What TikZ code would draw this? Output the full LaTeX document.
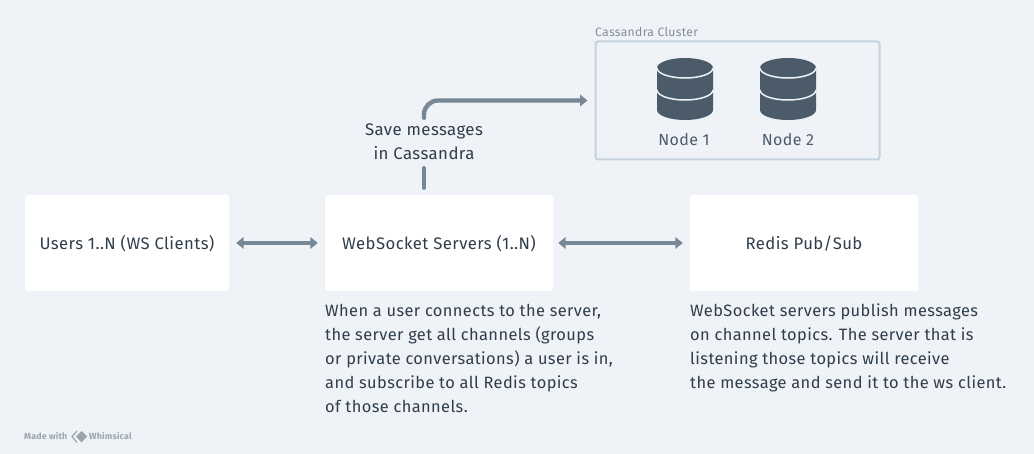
\documentclass[tikz,border=0pt]{standalone}
\usepackage{fontspec}
\setmainfont[LetterSpace=2.5]{Fira Sans}
\usetikzlibrary{arrows.meta}
\definecolor{bg}{HTML}{EFF3F7}
\definecolor{ink}{HTML}{2F3D4C}
\definecolor{conn}{HTML}{788796}
\definecolor{dbfill}{HTML}{4B5B6A}
\definecolor{rim}{HTML}{C5D1DC}
\definecolor{cap}{HTML}{808E9C}
\definecolor{brand}{HTML}{9AA5B0}
\tikzset{
  card/.style={fill=white,rounded corners=2.5pt,minimum width=#1,minimum height=96pt,inner sep=0pt,text=ink,font=\fontsize{16.7}{24}\selectfont},
  txt/.style={inner sep=0pt,text=ink,font=\fontsize{16.4}{24}\selectfont,align=left,anchor=north west},
  link/.style={draw=conn,line width=4.4pt,line cap=round},
  both/.style={link,{Triangle[length=7.5pt,width=11.5pt]}-{Triangle[length=7.5pt,width=11.5pt]},line cap=butt},
  dbname/.style={inner sep=0pt,text=dbfill,font=\fontsize{16}{20}\selectfont},
}
\newcommand{\dbicon}[1]{%
  \fill[dbfill] (#1-28,68) arc[start angle=180,end angle=360,x radius=28,y radius=10]
     -- (#1+28,110) arc[start angle=0,end angle=180,x radius=28,y radius=10] -- cycle;
  \draw[bg,line width=1.5pt] (#1-28,68) arc[start angle=180,end angle=0,x radius=28,y radius=10];
  \draw[bg,line width=1.5pt] (#1-28,90) arc[start angle=180,end angle=0,x radius=28,y radius=10];
}
\newcommand{\cardtext}[1]{\raisebox{-7pt}[0pt][0pt]{#1}}
\begin{document}
\begin{tikzpicture}[x=1pt,y=-1pt]
\useasboundingbox (0,0) rectangle (1034,454);
\fill[bg] (0,0) rectangle (1034,454);
\node[card=204pt] (users) at (127,243) {\cardtext{Users 1..N (WS Clients)}};
\node[card=228pt] (ws) at (439,243) {\cardtext{WebSocket Servers (1..N)}};
\node[card=228pt] (redis) at (804,243) {\cardtext{Redis Pub/Sub}};
\node[draw=rim,line width=2pt,rounded corners=2.5pt,minimum width=284pt,minimum height=118pt,inner sep=0pt] (cluster) at (737.5,100.5) {};
\node[inner sep=0pt,anchor=base west,text=cap,font=\fontsize{12.2}{14}\selectfont] (clabel) at (595,36.5) {Cassandra Cluster};
\dbicon{685}
\dbicon{788}
\node[dbname] (n1) at (684,139.5) {Node 1};
\node[dbname] (n2) at (788,139.5) {Node 2};
\node[inner sep=0pt,align=center,text=ink,font=\fontsize{16.8}{24}\selectfont,minimum height=50pt] (save) at (424,142) {Save messages\\in Cassandra};
\draw[both,shorten <=7pt,shorten >=7pt] (users) -- (ws);
\draw[both,shorten <=5pt,shorten >=7pt] (ws) -- (redis);
\draw[link,shorten <=7pt,shorten >=1pt] (save.center |- ws.north) -- (save.south);
\draw[link,rounded corners=14pt,-{Triangle[length=7.5pt,width=11.5pt]},shorten <=-1pt,shorten >=7pt] (save.north) -- (save.north |- cluster.west) -- (cluster.west);
\node[txt] (wsnote) at (325,304) {When a user connects to the server,\\the server get all channels (groups\\or private conversations) a user is in,\\and subscribe to all Redis topics\\of those channels.};
\node[txt] (rnote) at (690,304) {WebSocket servers publish messages\\on channel topics. The server that is\\listening those topics will receive\\the message and send it to the ws client.};
\node[inner sep=0pt,anchor=base west,text=brand,font=\fontsize{8.8}{10}\selectfont\bfseries] (made) at (24,439.5) {Made with};
\fill[brand] (87,436.5) -- (81.5,431) -- (76,436.5) -- (81.5,442.5) -- cycle;
\draw[brand,line width=1.2pt] (77,431) -- (72,436.5) -- (77,442.5);
\node[inner sep=0pt,anchor=base west,text=brand,font=\fontsize{8.8}{10}\selectfont\bfseries] (brandname) at (89,439.5) {Whimsical};
\end{tikzpicture}
\end{document}
